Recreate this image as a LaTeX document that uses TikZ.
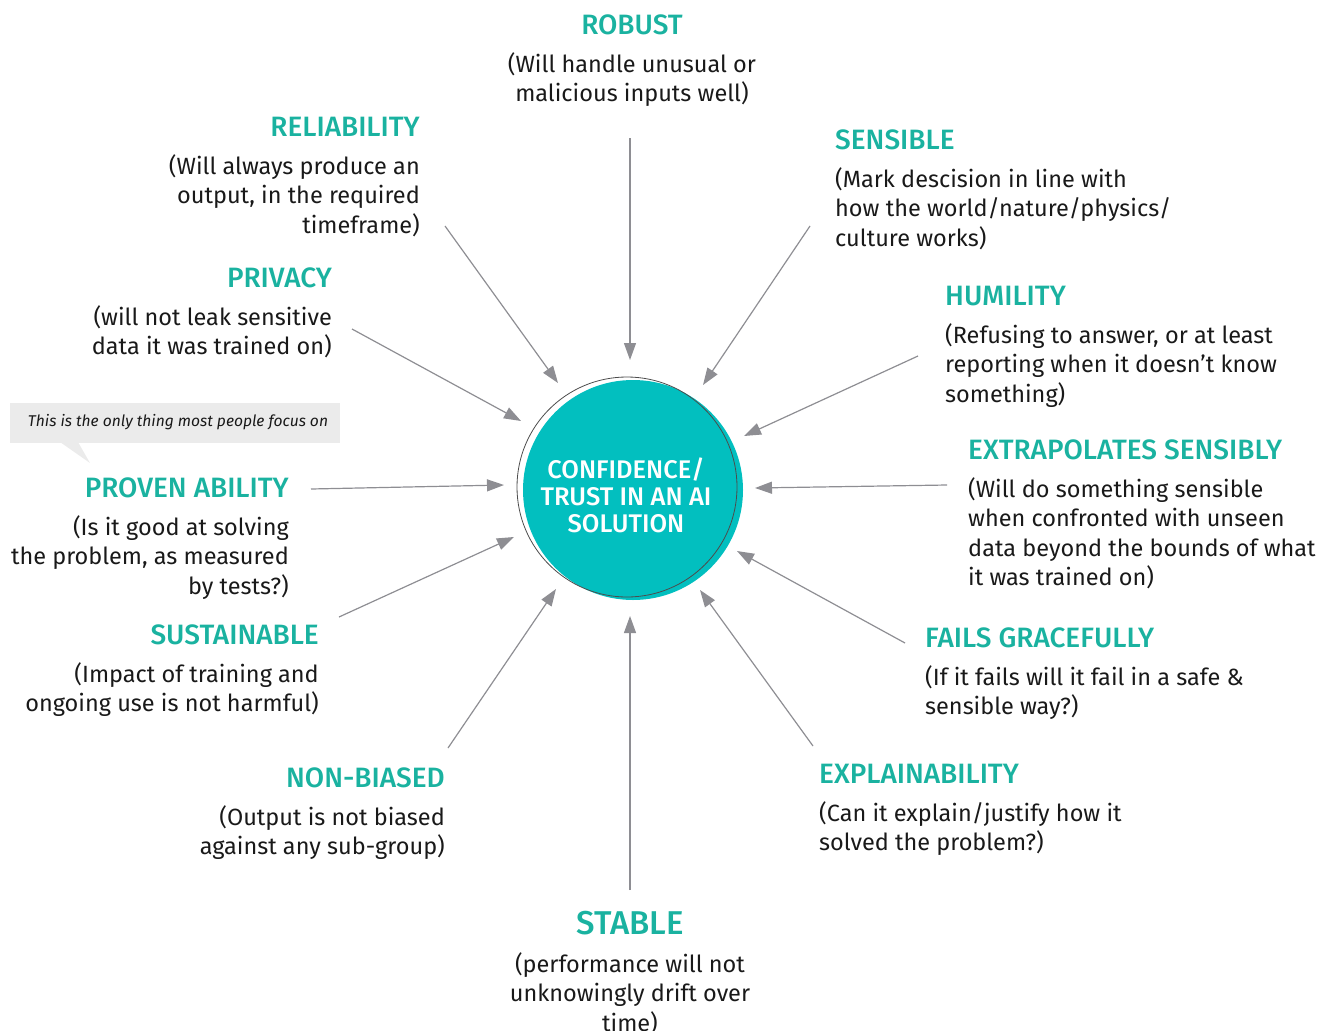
\documentclass[tikz,border=0pt]{standalone}
\usepackage{fontspec}
\setmainfont{Fira Sans}
\newfontfamily\medfont{Fira Sans Medium}
\usetikzlibrary{positioning,arrows.meta}
\definecolor{tealhead}{HTML}{1AB2A0}
\definecolor{tealcore}{HTML}{02BFBF}
\definecolor{arrgray}{HTML}{8E8E93}
\definecolor{tipbg}{HTML}{EBEBEB}
\tikzset{
	head/.style={inner sep=0pt, text=tealhead, font={\medfont\fontsize{28}{32}\selectfont}},
	body/.style={inner sep=0pt, text=black!90, font={\fontsize{23.5}{29.5}\selectfont}},
	arr/.style={draw=arrgray, line width=1.2pt, -{Triangle[length=17pt,width=12pt]}},
}

\begin{document}
\begin{tikzpicture}[x=1pt, y=-1pt]
			%%%%% START %%%%%
			\useasboundingbox (0,0) rectangle (1339,1031);
			
			% the core
			\fill[tealcore] (633,490) circle (110pt);
			\draw[black!70, line width=0.8pt] (627,487) circle (110pt);
			\node[align=center, inner sep=0pt, text=white, font={\medfont\fontsize{25.5}{27}\selectfont}] (core) at (626,495) {CONFIDENCE/\\TRUST IN AN AI\\SOLUTION};
			
			% top and bottom
			\node[head, anchor=base] (rob) at (632,34) {ROBUST};
			\node[body, align=center, below=18pt of rob.base] (robtxt) {(Will handle unusual or\\malicious inputs well)};
			\node[head, anchor=base, font={\medfont\fontsize{33}{38}\selectfont}] (stab) at (630,934) {STABLE};
			\node[body, align=center, below=18pt of stab.base] (stabtxt) {(performance will not\\unknowingly drift over\\time)};
			
			% left side
			\node[head, anchor=base east] (rel) at (420,136) {RELIABILITY};
			\node[body, align=right, below left=18pt and 0pt of rel.base east] (reltxt) {(Will always produce an\\output, in the required\\timeframe)};
			\node[head, anchor=base east] (priv) at (332,287) {PRIVACY};
			\node[body, align=right, below left=18pt and 0pt of priv.base east] (privtxt) {(will not leak sensitive\\data it was trained on)};
			\node[head, anchor=base east] (prov) at (289,497) {PROVEN ABILITY};
			\node[body, align=right, below left=18pt and 0pt of prov.base east] (provtxt) {(Is it good at solving\\the problem, as measured\\by tests?)};
			\node[head, anchor=base east] (sust) at (319,644) {SUSTAINABLE};
			\node[body, align=right, below left=18pt and 0pt of sust.base east] (susttxt) {(Impact of training and\\ongoing use is not harmful)};
			\node[head, anchor=base east] (nonb) at (445,787) {NON-BIASED};
			\node[body, align=right, below left=18pt and 0pt of nonb.base east] (nonbtxt) {(Output is not biased\\against any sub-group)};
			
			% right side
			\node[head, anchor=base west] (sens) at (835,149) {SENSIBLE};
			\node[body, align=left, below right=18pt and 0pt of sens.base west] (senstxt) {(Mark descision in line with\\how the world/nature/physics/\\culture works)};
			\node[head, anchor=base west] (hum) at (945,305) {HUMILITY};
			\node[body, align=left, below right=18pt and 0pt of hum.base west] (humtxt) {(Refusing to answer, or at least\\reporting when it doesn’t know\\something)};
			\node[head, anchor=base west] (extr) at (968,459) {EXTRAPOLATES SENSIBLY};
			\node[body, align=left, below right=18pt and 0pt of extr.base west] (extrtxt) {(Will do something sensible\\when confronted with unseen\\data beyond the bounds of what\\it was trained on)};
			\node[head, anchor=base west] (fail) at (925,647) {FAILS GRACEFULLY};
			\node[body, align=left, below right=18pt and 0pt of fail.base west] (failtxt) {(If it fails will it fail in a safe \&\\sensible way?)};
			\node[head, anchor=base west] (expl) at (819,783) {EXPLAINABILITY};
			\node[body, align=left, below right=18pt and 0pt of expl.base west] (expltxt) {(Can it explain/justify how it\\solved the problem?)};
			
			% the remark
			\fill[tipbg] (10,403) rectangle (340,443);
			\fill[tipbg] (60,442) -- (78,442) -- (90,463) -- cycle;
			\node[inner sep=0pt, text=black!90, font={\itshape\fontsize{15.6}{18}\selectfont}] (tip) at (178,422) {This is the only thing most people focus on};
			
			% arrows in
			\coordinate (a1) at (630,138);  \coordinate (b1) at (630,360);
			\coordinate (a2) at (445,226);  \coordinate (b2) at (558,383);
			\coordinate (a3) at (810,226);  \coordinate (b3) at (703,385);
			\coordinate (a4) at (352,329);  \coordinate (b4) at (521,421);
			\coordinate (a5) at (918,356);  \coordinate (b5) at (744,436);
			\coordinate (a6) at (311,489);  \coordinate (b6) at (504,485);
			\coordinate (a7) at (947,485);  \coordinate (b7) at (755,488);
			\coordinate (a8) at (339,617);  \coordinate (b8) at (514,537);
			\coordinate (a9) at (905,643);  \coordinate (b9) at (737,551);
			\coordinate (a10) at (448,748); \coordinate (b10) at (556,589);
			\coordinate (a11) at (813,746); \coordinate (b11) at (700,590);
			\coordinate (a12) at (630,890); \coordinate (b12) at (630,616);
			\draw[arr] (a1) -- (b1);
			\draw[arr] (a2) -- (b2);
			\draw[arr] (a3) -- (b3);
			\draw[arr] (a4) -- (b4);
			\draw[arr] (a5) -- (b5);
			\draw[arr] (a6) -- (b6);
			\draw[arr] (a7) -- (b7);
			\draw[arr] (a8) -- (b8);
			\draw[arr] (a9) -- (b9);
			\draw[arr] (a10) -- (b10);
			\draw[arr] (a11) -- (b11);
			\draw[arr] (a12) -- (b12);
			
			%%%%% END %%%%%
\end{tikzpicture}
\end{document}
